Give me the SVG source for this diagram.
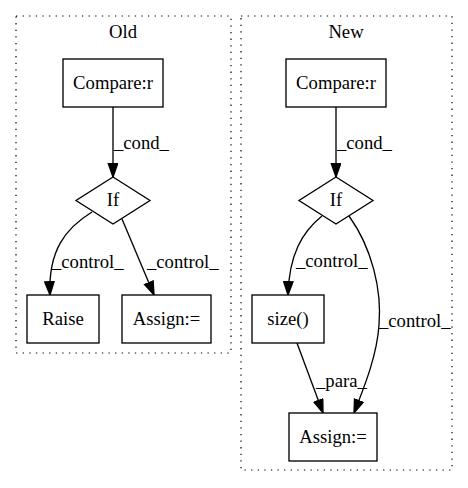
<svg xmlns="http://www.w3.org/2000/svg" width="468" height="488" viewBox="0 0 468 488" font-family="'Liberation Serif', 'Times New Roman', serif" font-size="18.67">
  <style>
    .cluster { fill: none; stroke: #000; stroke-width: 1.2; stroke-dasharray: 1.3,5.3; }
    .node { fill: #fff; stroke: #000; stroke-width: 1.33; }
    .edge { fill: none; stroke: #000; stroke-width: 1.33; marker-end: url(#arrow); }
  </style>
  <defs>
    <marker id="arrow" markerUnits="userSpaceOnUse" markerWidth="15" markerHeight="11" refX="14" refY="5.2" orient="auto">
      <path d="M0.7,0.5 L14,5.2 L0.7,9.9 z" fill="#000" stroke="#000" stroke-width="1.33"/>
    </marker>
  </defs>
  <rect width="468" height="488" fill="#fff"/>

  <!-- clusters -->
  <g id="cluster_old">
    <rect class="cluster" x="16" y="16" width="215" height="337"/>
    <text text-anchor="middle" x="123" y="38">Old</text>
  </g>
  <g id="cluster_new">
    <rect class="cluster" x="241" y="16" width="211" height="454"/>
    <text text-anchor="middle" x="346" y="38">New</text>
  </g>

  <!-- connectors -->
  <g id="edges">
    <path class="edge" d="M113,107 L113,177"/>
    <text x="114" y="149">_cond_</text>
    <path class="edge" d="M92,212 C66,228 48,250 50,295"/>
    <text x="52" y="268">_control_</text>
    <path class="edge" d="M122,219 L154,295"/>
    <text x="147" y="268">_control_</text>

    <path class="edge" d="M336,107 L336,177"/>
    <text x="337" y="149">_cond_</text>
    <path class="edge" d="M322,216 C302,232 289,255 288,295"/>
    <text x="296" y="267">_control_</text>
    <path class="edge" d="M349,216 C372,248 382,290 379,325 C377,355 365,385 354,413"/>
    <text x="379" y="327">_control_</text>
    <path class="edge" d="M297,343 L323,413"/>
    <text x="316" y="387">_para_</text>
  </g>

  <!-- Old nodes -->
  <g id="old_compare">
    <rect class="node" x="63" y="59" width="100" height="48"/>
    <text text-anchor="middle" x="113" y="89">Compare:r</text>
  </g>
  <g id="old_if">
    <polygon class="node" points="113,177 150,200.5 113,224 76,200.5"/>
    <text text-anchor="middle" x="113" y="206">If</text>
  </g>
  <g id="old_raise">
    <rect class="node" x="27" y="295" width="72" height="48"/>
    <text text-anchor="middle" x="63" y="325">Raise</text>
  </g>
  <g id="old_assign">
    <rect class="node" x="122" y="295" width="89" height="48"/>
    <text text-anchor="middle" x="166.5" y="325">Assign:=</text>
  </g>

  <!-- New nodes -->
  <g id="new_compare">
    <rect class="node" x="286" y="59" width="100" height="48"/>
    <text text-anchor="middle" x="336" y="89">Compare:r</text>
  </g>
  <g id="new_if">
    <polygon class="node" points="336,177 373,200.5 336,224 299,200.5"/>
    <text text-anchor="middle" x="336" y="206">If</text>
  </g>
  <g id="new_size">
    <rect class="node" x="252" y="295" width="72" height="48"/>
    <text text-anchor="middle" x="288" y="325">size()</text>
  </g>
  <g id="new_assign">
    <rect class="node" x="289" y="413" width="88" height="48"/>
    <text text-anchor="middle" x="333" y="443">Assign:=</text>
  </g>
</svg>
